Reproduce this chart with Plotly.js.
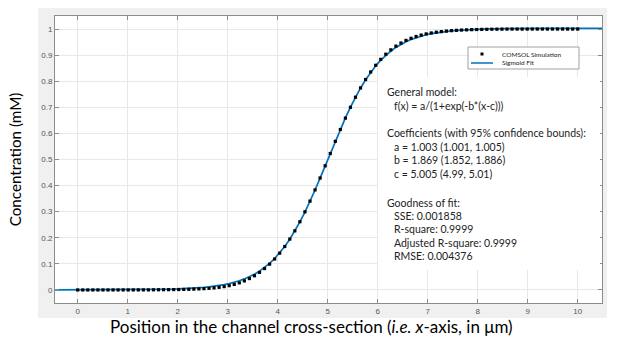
<!DOCTYPE html>
<html>
<head>
<meta charset="utf-8">
<script src="https://cdn.plot.ly/plotly-3.0.1.min.js"></script>
<style>html,body{margin:0;padding:0;background:#fff;}#chart{width:619px;height:347px;}</style>
</head>
<body>
<div id="chart"></div>
<script>
// ---- data ----
const xSim = [0, 0.101, 0.202, 0.303, 0.404, 0.505, 0.606, 0.707, 0.808, 0.909,
  1.010, 1.111, 1.212, 1.313, 1.414, 1.515, 1.616, 1.717, 1.818, 1.919,
  2.020, 2.121, 2.222, 2.323, 2.424, 2.525, 2.626, 2.727, 2.828, 2.929,
  3.030, 3.131, 3.232, 3.333, 3.434, 3.535, 3.636, 3.737, 3.838, 3.939,
  4.040, 4.141, 4.242, 4.343, 4.444, 4.545, 4.646, 4.747, 4.848, 4.949,
  5.051, 5.152, 5.253, 5.354, 5.455, 5.556, 5.657, 5.758, 5.859, 5.960,
  6.061, 6.162, 6.263, 6.364, 6.465, 6.566, 6.667, 6.768, 6.869, 6.970,
  7.071, 7.172, 7.273, 7.374, 7.475, 7.576, 7.677, 7.778, 7.879, 7.980,
  8.081, 8.182, 8.283, 8.384, 8.485, 8.586, 8.687, 8.788, 8.889, 8.990,
  9.091, 9.192, 9.293, 9.394, 9.495, 9.596, 9.697, 9.798, 9.899, 10.000];
const ySim = [0, 0, 0, 0, 0, 0, 0, 0, 0, 0.0001,
  0.0001, 0.0001, 0.0002, 0.0002, 0.0003, 0.0005, 0.0007, 0.0009, 0.0011, 0.0014,
  0.0017, 0.0021, 0.0026, 0.0032, 0.0040, 0.0050, 0.0063, 0.0079, 0.0100, 0.0128,
  0.0165, 0.0213, 0.0273, 0.0347, 0.0436, 0.0545, 0.0672, 0.0820, 0.0990, 0.1185,
  0.1410, 0.1665, 0.1950, 0.2265, 0.2615, 0.2995, 0.3405, 0.3835, 0.4290, 0.4757,
  0.5230, 0.5697, 0.6150, 0.6587, 0.7002, 0.7388, 0.7743, 0.8065, 0.8355, 0.8612,
  0.8838, 0.9035, 0.9203, 0.9345, 0.9465, 0.9565, 0.9647, 0.9714, 0.9769, 0.9814,
  0.9850, 0.9879, 0.9903, 0.9922, 0.9938, 0.9951, 0.9961, 0.9969, 0.9976, 0.9982,
  0.9986, 0.9990, 0.9993, 0.9995, 0.9997, 0.9998, 0.9999, 0.9999, 0.9999, 0.9999,
  1.0000, 1.0000, 1.0000, 1.0000, 1.0000, 1.0000, 1.0000, 1.0000, 1.0000, 1.0000];

const fitXStart = -0.454;
const fitXEnd = 10.486;
const yFitStart = 0.00004;
const yFitEnd = 1.0029;
const yFit = [0.0001, 0.0001, 0.0001, 0.0002, 0.0002, 0.0002, 0.0003, 0.0003, 0.0004, 0.0005,
  0.0006, 0.0007, 0.0008, 0.0010, 0.0012, 0.0015, 0.0018, 0.0021, 0.0026, 0.0031,
  0.0038, 0.0046, 0.0055, 0.0066, 0.0080, 0.0097, 0.0116, 0.0140, 0.0169, 0.0203,
  0.0245, 0.0294, 0.0352, 0.0423, 0.0506, 0.0605, 0.0722, 0.0858, 0.1019, 0.1205,
  0.1420, 0.1667, 0.1945, 0.2258, 0.2606, 0.2987, 0.3398, 0.3831, 0.4288, 0.4757,
  0.5231, 0.5700, 0.6156, 0.6594, 0.7008, 0.7391, 0.7742, 0.8057, 0.8339, 0.8589,
  0.8807, 0.8996, 0.9157, 0.9297, 0.9415, 0.9516, 0.9601, 0.9671, 0.9731, 0.9782,
  0.9824, 0.9858, 0.9887, 0.9912, 0.9932, 0.9949, 0.9962, 0.9974, 0.9984, 0.9992,
  0.9998, 1.0004, 1.0008, 1.0012, 1.0015, 1.0017, 1.0019, 1.0021, 1.0022, 1.0023,
  1.0024, 1.0025, 1.0026, 1.0027, 1.0027, 1.0028, 1.0028, 1.0029, 1.0029, 1.0029];

const xTicks = [0, 1, 2, 3, 4, 5, 6, 7, 8, 9, 10];
const yTicks = [0, 0.1, 0.2, 0.3, 0.4, 0.5, 0.6, 0.7, 0.8, 0.9, 1];
const yTickText = ['0', '0.1', '0.2', '0.3', '0.4', '0.5', '0.6', '0.7', '0.8', '0.9', '1'];

const seriesNames = ['COMSOL Simulation', 'Sigmoid Fit'];
const xTitle = 'Position in the channel cross-section (<i>i.e. x</i>-axis, in μm)';
const yTitle = 'Concentration (mM)';

// [text, indented?]
const fitText = [
  ['General model:', 0],
  ['f(x) = a/(1+exp(-b*(x-c)))', 1],
  ['Coefficients (with 95% confidence bounds):', 0],
  ['a = 1.003 (1.001, 1.005)', 1],
  ['b = 1.869 (1.852, 1.886)', 1],
  ['c = 5.005 (4.99, 5.01)', 1],
  ['Goodness of fit:', 0],
  ['SSE: 0.001858', 1],
  ['R-square: 0.9999', 1],
  ['Adjusted R-square: 0.9999', 1],
  ['RMSE: 0.004376', 1]
];
const fitTextY = [92, 106, 133, 147, 160, 174, 203, 216, 229, 243, 256];

// ---- layout helpers (pixel -> paper) ----
const L = 55, R = 602, T = 16, B = 303;
const PX = x => (x - L) / (R - L);
const PY = y => (B - y) / (B - T);

const blue = '#0072BD';

const traces = [
  {
    x: [fitXStart].concat(xSim, [fitXEnd]),
    y: [yFitStart].concat(yFit, [yFitEnd]),
    type: 'scatter', mode: 'lines', name: seriesNames[1],
    line: {color: blue, width: 1.7},
    hoverinfo: 'skip'
  },
  {
    x: xSim, y: ySim,
    type: 'scatter', mode: 'markers', name: seriesNames[0],
    marker: {color: '#000000', size: 3.2, symbol: 'square'},
    hoverinfo: 'skip'
  }
];

const shapes = [
  // MATLAB figure grey frame
  {type: 'rect', xref: 'paper', yref: 'paper', x0: PX(38), x1: PX(607), y0: PY(318), y1: PY(8),
   fillcolor: '#f0f0f0', line: {width: 0}, layer: 'below'},
  // white axes area
  {type: 'rect', xref: 'paper', yref: 'paper', x0: 0, x1: 1, y0: 0, y1: 1,
   fillcolor: '#ffffff', line: {width: 0}, layer: 'below'},
  // text box
  {type: 'rect', xref: 'paper', yref: 'paper', x0: PX(378), x1: PX(600), y0: PY(270), y1: PY(77),
   fillcolor: '#ffffff', line: {width: 0}, layer: 'above'},
  // legend box
  {type: 'rect', xref: 'paper', yref: 'paper', x0: PX(468), x1: PX(579), y0: PY(69), y1: PY(47),
   fillcolor: '#ffffff', line: {color: '#a0a0a0', width: 1}, layer: 'above'},
  // legend line sample
  {type: 'line', xref: 'paper', yref: 'paper', x0: PX(471), x1: PX(493), y0: PY(63), y1: PY(63),
   line: {color: blue, width: 1.5}, layer: 'above'},
  // legend marker sample
  {type: 'rect', xref: 'paper', yref: 'paper', x0: PX(480.5), x1: PX(483.5), y0: PY(55.5), y1: PY(52.5),
   fillcolor: '#000000', line: {width: 0}, layer: 'above'}
];

const textFont = {family: 'Lato, Carlito, sans-serif', size: 10.5, color: '#222222'};
const annotations = fitText.map((t, i) => ({
  xref: 'paper', yref: 'paper', x: PX(t[1] ? 392 : 385), y: PY(fitTextY[i]),
  xanchor: 'left', yanchor: 'middle', showarrow: false, text: t[0], font: textFont
}));
annotations.push({xref: 'paper', yref: 'paper', x: PX(500), y: PY(54), xanchor: 'left', yanchor: 'middle',
  showarrow: false, text: seriesNames[0], font: {family: 'Lato, sans-serif', size: 6.5, color: '#222'}});
annotations.push({xref: 'paper', yref: 'paper', x: PX(500), y: PY(63), xanchor: 'left', yanchor: 'middle',
  showarrow: false, text: seriesNames[1], font: {family: 'Lato, sans-serif', size: 6.5, color: '#222'}});
// x-axis title (placed as in the reference, left of the axis centre)
annotations.push({xref: 'paper', yref: 'paper', x: PX(311), y: PY(326), xanchor: 'center', yanchor: 'middle',
  showarrow: false, text: xTitle, font: {family: 'Lato, sans-serif', size: 17, color: '#000'}});

const axisCommon = {
  showgrid: true, gridcolor: '#e8e8e8', gridwidth: 1, zeroline: false,
  showline: true, linecolor: '#8c8c8c', linewidth: 1, mirror: 'ticks',
  ticks: 'inside', ticklen: 4, tickcolor: '#8c8c8c', tickwidth: 1,
  tickfont: {family: 'Liberation Sans, Arial, sans-serif', size: 8, color: '#555555'},
  automargin: false, fixedrange: true
};

const layout = {
  width: 619, height: 347,
  margin: {l: L, r: 619 - R, t: T, b: 347 - B, pad: 0},
  paper_bgcolor: '#ffffff',
  plot_bgcolor: 'rgba(0,0,0,0)',
  showlegend: false,
  xaxis: Object.assign({}, axisCommon, {
    range: [fitXStart, fitXEnd], tickmode: 'array', tickvals: xTicks
  }),
  yaxis: Object.assign({}, axisCommon, {
    range: [-0.05, 1.05], tickmode: 'array', tickvals: yTicks, ticktext: yTickText,
    title: {text: yTitle, font: {family: 'Lato, sans-serif', size: 15.2, color: '#000'}, standoff: 15}
  }),
  shapes: shapes,
  annotations: annotations
};

Plotly.newPlot('chart', traces, layout, {staticPlot: true, displayModeBar: false});
</script>
</body>
</html>
